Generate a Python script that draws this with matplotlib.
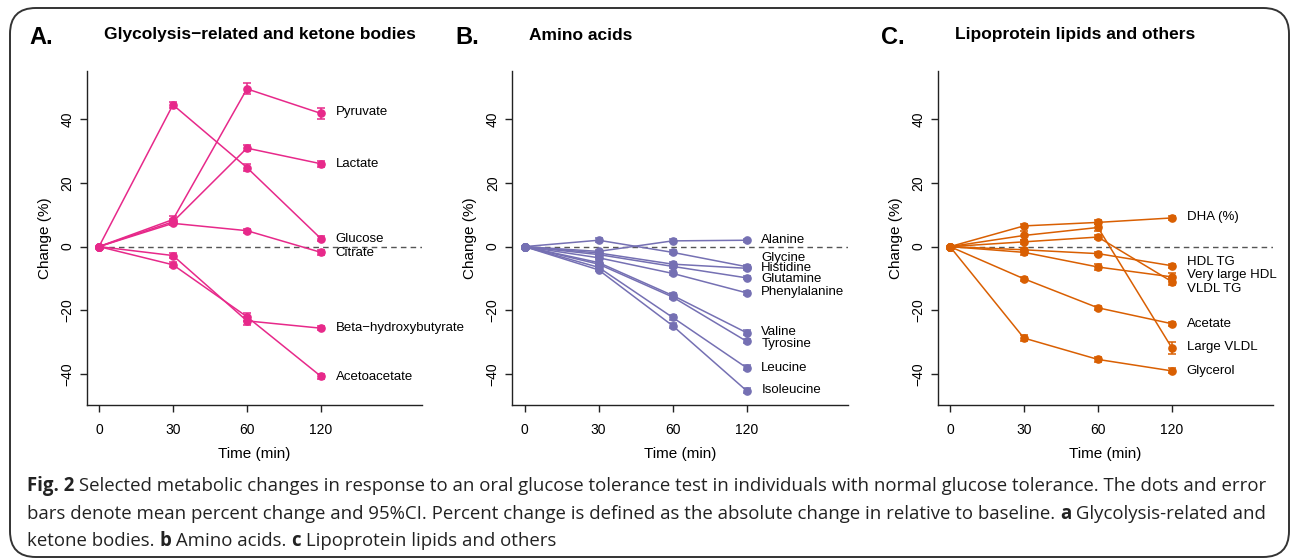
import matplotlib
matplotlib.use("Agg")
import matplotlib.pyplot as plt
from matplotlib.patches import FancyBboxPatch
import numpy as np

W, H = 1292, 559
DPI = 100

times = ["0", "30", "60", "120"]

# Panel A: Glycolysis-related and ketone bodies
a_names = ["Pyruvate", "Lactate", "Glucose", "Citrate", "Beta\u2212hydroxybutyrate", "Acetoacetate"]
a_vals = [
    [0, 8.5, 49.5, 41.8],
    [0, 7.8, 30.9, 26.0],
    [0, 44.5, 24.8, 2.5],
    [0, 7.3, 5.0, -1.8],
    [0, -2.8, -23.3, -25.6],
    [0, -5.7, -22.0, -40.7],
]
a_err = [
    [0, 1.2, 1.7, 1.6],
    [0, 1.0, 1.0, 0.9],
    [0, 1.0, 1.2, 0.8],
    [0, 0.6, 0.6, 0.7],
    [0, 0.8, 1.2, 0.7],
    [0, 0.8, 1.2, 0.8],
]
a_label_y = [42.1, 25.9, 2.4, -1.9, -25.4, -40.8]

# Panel B: Amino acids
b_names = ["Alanine", "Glycine", "Histidine", "Glutamine", "Phenylalanine",
           "Valine", "Tyrosine", "Leucine", "Isoleucine"]
b_vals = [
    [0, -1.5, 1.8, 2.0],
    [0, 2.0, -1.8, -6.3],
    [0, -2.0, -5.5, -6.8],
    [0, -2.5, -6.2, -9.8],
    [0, -3.5, -8.4, -14.5],
    [0, -5.0, -15.3, -27.0],
    [0, -5.5, -15.8, -29.7],
    [0, -6.5, -22.2, -38.0],
    [0, -7.3, -24.8, -45.2],
]
b_err = [
    [0, 0.5, 0.5, 0.5],
    [0, 0.6, 0.6, 0.6],
    [0, 0.5, 0.6, 0.6],
    [0, 0.5, 0.5, 0.5],
    [0, 0.5, 0.6, 0.6],
    [0, 0.5, 0.7, 0.7],
    [0, 0.5, 0.7, 0.7],
    [0, 0.5, 0.7, 0.7],
    [0, 0.5, 0.7, 0.7],
]
b_label_y = [2.1, -3.5, -6.8, -10.3, -14.1, -26.9, -30.5, -38.0, -45.1]

# Panel C: Lipoprotein lipids and others
c_names = ["DHA (%)", "HDL TG", "Very large HDL", "VLDL TG", "Acetate", "Large VLDL", "Glycerol"]
c_vals = [
    [0, 6.5, 7.6, 9.0],
    [0, -1.0, -2.2, -6.0],
    [0, -1.8, -6.4, -9.5],
    [0, 1.5, 3.0, -11.0],
    [0, -10.1, -19.2, -24.2],
    [0, 3.5, 6.0, -31.8],
    [0, -28.7, -35.4, -39.0],
]
c_err = [
    [0, 0.5, 0.6, 0.5],
    [0, 0.6, 0.5, 0.6],
    [0, 0.8, 1.0, 1.2],
    [0, 0.6, 0.6, 1.0],
    [0, 0.7, 0.7, 0.6],
    [0, 1.5, 1.2, 2.0],
    [0, 1.0, 0.9, 0.8],
]
c_label_y = [9.4, -4.7, -9.0, -13.2, -24.3, -31.4, -39.0]

titles = ["Glycolysis\u2212related and ketone bodies", "Amino acids", "Lipoprotein lipids and others"]
letters = ["A.", "B.", "C."]
colors = ["#E7298A", "#7570B3", "#D95F02"]

FONT = "Liberation Sans"
plt.rcParams["font.family"] = [FONT, "DejaVu Sans"]

fig = plt.figure(figsize=(W / DPI, H / DPI), dpi=DPI)

# rounded frame
frame = FancyBboxPatch((10 / W, 1 - 557 / H), (1289 - 10) / W, (557 - 8) / H,
                       boxstyle="round,pad=0,rounding_size=0.02",
                       transform=fig.transFigure, fill=False, lw=1.4,
                       edgecolor="#333333", clip_on=False, mutation_aspect=W / H)
fig.patches.append(frame)

panels = [
    (a_names, a_vals, a_err, a_label_y),
    (b_names, b_vals, b_err, b_label_y),
    (c_names, c_vals, c_err, c_label_y),
]
lefts = [86.7, 512.3, 937.7]
ax_w = 335.5
ax_top, ax_bot = 70.7, 405.0
x = np.arange(len(times))

for i, (names, vals, errs, laby) in enumerate(panels):
    ax = fig.add_axes([lefts[i] / W, 1 - ax_bot / H, ax_w / W, (ax_bot - ax_top) / H])
    col = colors[i]
    ax.plot([0, 4.4], [0, 0], ls=(0, (4, 3)), color="#555555", lw=1.0, zorder=1)
    for nm, v, e, ly in zip(names, vals, errs, laby):
        ax.errorbar(x, v, yerr=e, color=col, lw=1.1, marker="o", ms=5.2,
                    capsize=3.2, capthick=1.1, elinewidth=1.1, zorder=3)
        ax.text(3.2, ly, nm, fontsize=9.5, va="center", ha="left", color="black")
    ax.set_xlim(-0.166, 4.369)
    ax.set_ylim(-49.7, 55.2)
    ax.set_xticks(x)
    ax.set_xticklabels(times)
    ax.set_yticks([-40, -20, 0, 20, 40])
    ax.set_yticklabels(["\u221240", "\u221220", "0", "20", "40"], rotation=90, va="center")
    for s in ["top", "right"]:
        ax.spines[s].set_visible(False)
    for s in ["left", "bottom"]:
        ax.spines[s].set_linewidth(1.0)
        ax.spines[s].set_color("#222222")
    ax.tick_params(axis="both", length=5, width=1.0, labelsize=10, color="#222222", pad=4)
    ax.tick_params(axis="x", pad=8)
    ax.set_xlabel("Time (min)", fontsize=11, labelpad=7)
    ax.set_ylabel("Change (%)", fontsize=11, labelpad=6)
    # titles
    fig.text((lefts[i] - 57) / W, 1 - 37 / H, letters[i], fontsize=17, fontweight="bold",
             va="center", ha="left")
    fig.text((lefts[i] + 17) / W, 1 - 35 / H, titles[i], fontsize=12.5, fontweight="bold",
             va="center", ha="left")

# caption with mixed bold
cap_lines = [
    [("Fig. 2", True), (" Selected metabolic changes in response to an oral glucose tolerance test in individuals with normal glucose tolerance. The dots and error", False)],
    [("bars denote mean percent change and 95%CI. Percent change is defined as the absolute change in relative to baseline. ", False), ("a", True), (" Glycolysis-related and", False)],
    [("ketone bodies. ", False), ("b", True), (" Amino acids. ", False), ("c", True), (" Lipoprotein lipids and others", False)],
]
cap_y = [486, 514, 541]
fig.canvas.draw()
renderer = fig.canvas.get_renderer()
for line, yy in zip(cap_lines, cap_y):
    xpos = 27.0
    for txt, bold in line:
        t = fig.text(xpos / W, 1 - yy / H, txt, fontsize=13.45, family=["Open Sans", "DejaVu Sans"],
                     fontweight="bold" if bold else "normal", va="center", ha="left",
                     color="#222222")
        bb = t.get_window_extent(renderer=renderer)
        xpos += bb.width

fig.savefig("out.png", dpi=DPI)
